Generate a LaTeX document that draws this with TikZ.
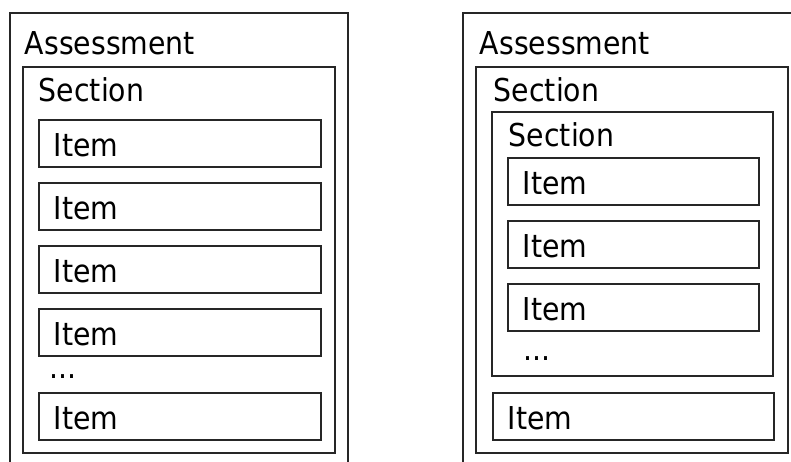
\documentclass[tikz,border=0pt]{standalone}
\usepackage{fontspec}
\setmainfont{DejaVu Sans Condensed}
\usetikzlibrary{positioning}

\begin{document}
\begin{tikzpicture}[
            x = 1pt, y = -1pt, % pixel units, y going down
            node distance = 14pt, % gap between items
            line width = 1.9pt, % line style
            font = \fontsize{31.5}{36}\selectfont
        ]

        \tikzstyle{itembox}=[
            draw = black!85,
            anchor = north west,
            minimum height = 47pt,
            inner xsep = 15pt,
            inner ysep = 0pt,
            align = left,
            text height = 26pt,
            text depth = 0pt
        ]

        \tikzstyle{heading}=[
            anchor = base west,
            inner sep = 0pt
        ]

        \useasboundingbox (0,0) rectangle (791,462);

        % left: one section holding the items
        \draw[black!85] (10,462) -- (10,13) -- (348,13) -- (348,462);
        \draw[black!85] (23,67) rectangle (335,453);
        \node[heading] (la) at (24,55) {Assessment};
        \node[heading] (ls) at (38,102) {Section};
        \node[itembox, text width=252pt] (l1) at (38,119) {Item};
        \node[itembox, text width=252pt, below=of l1] (l2) {Item};
        \node[itembox, text width=252pt, below=of l2] (l3) {Item};
        \node[itembox, text width=252pt, below=of l3] (l4) {Item};
        \node[heading] (ldots) at (49,378) {...};
        \node[itembox, text width=252pt] (l5) at (38,392) {Item};

        % right: a section nested in a section
        \draw[black!85] (463,462) -- (463,13) -- (791,13);
        \draw[black!85] (476,67) rectangle (788,453);
        \draw[black!85] (492,112) rectangle (773,376);
        \node[heading] (ra) at (479,55) {Assessment};
        \node[heading] (rs) at (493,102) {Section};
        \node[heading] (rss) at (508,147) {Section};
        \node[itembox, text width=221pt] (r1) at (507,157) {Item};
        \node[itembox, text width=221pt, below=of r1] (r2) {Item};
        \node[itembox, text width=221pt, below=of r2] (r3) {Item};
        \node[heading] (rdots) at (523,360) {...};
        \node[itembox, text width=251pt] (r4) at (492,392) {Item};

    \end{tikzpicture}
\end{document}
